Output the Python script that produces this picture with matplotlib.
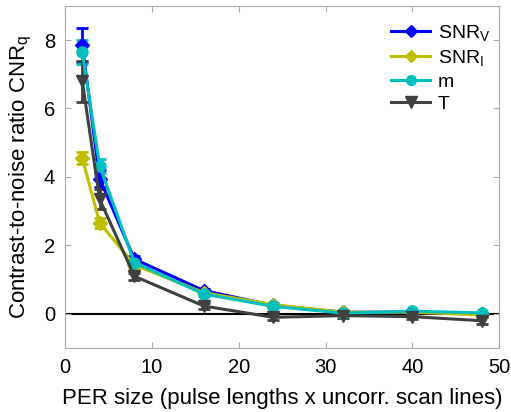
import matplotlib
matplotlib.use("Agg")
import matplotlib.pyplot as plt
from matplotlib.lines import Line2D

x = [2, 4, 8, 16, 24, 32, 40, 48]
snr_v = [7.85, 3.95, 1.6, 0.68, 0.25, 0.05, 0.05, 0.0]
snr_v_err = [0.5, 0.25, 0.08, 0.05, 0.05, 0.03, 0.03, 0.03]
snr_i = [4.55, 2.66, 1.43, 0.62, 0.27, 0.05, 0.05, -0.03]
snr_i_err = [0.18, 0.15, 0.08, 0.05, 0.05, 0.03, 0.03, 0.03]
m = [7.65, 4.32, 1.5, 0.58, 0.22, 0.02, 0.08, 0.03]
m_err = [0.35, 0.2, 0.08, 0.05, 0.05, 0.03, 0.03, 0.03]
t = [6.8, 3.35, 1.1, 0.23, -0.1, -0.05, -0.08, -0.2]
t_err = [0.6, 0.3, 0.1, 0.08, 0.08, 0.06, 0.06, 0.1]
labels = ["SNR$_\\mathregular{V}$", "SNR$_\\mathregular{I}$", "m", "T"]

plt.rcParams['font.family'] = ['Liberation Sans', 'DejaVu Sans']
plt.rcParams['mathtext.fontset'] = 'custom'
plt.rcParams['mathtext.rm'] = 'Liberation Sans'
plt.rcParams['mathtext.it'] = 'Liberation Sans'

fig = plt.figure(figsize=(5.11, 4.12), dpi=100)
ax = fig.add_axes([0.127, 0.155, 0.85, 0.831])

series = [
    (snr_v, snr_v_err, '#0000ff', 'D', 7),
    (snr_i, snr_i_err, '#bfbf00', 'D', 7),
    (m, m_err, '#00bfbf', 'o', 8),
    (t, t_err, '#404040', 'v', 9),
]
handles = []
for (y, e, c, mk, ms), lab in zip(series, labels):
    ax.errorbar(x, y, yerr=e, color=c, marker=mk, markersize=ms, lw=2.2,
                capsize=4, capthick=2, elinewidth=2)
    handles.append(Line2D([], [], color=c, marker=mk, markersize=ms - 1,
                          lw=2.2, label=lab))

ax.axhline(0, color='black', lw=1.5, zorder=0)
ax.set_xlim(0, 50)
ax.set_ylim(-1, 9)
ax.set_xticks([0, 10, 20, 30, 40, 50])
ax.set_yticks([0, 2, 4, 6, 8])
ax.tick_params(direction='in', top=True, right=True, labelsize=14.5, length=4,
               color='#aaaaaa', pad=7)
for s in ax.spines.values():
    s.set_color('#aaaaaa')
ax.set_xlabel('PER size (pulse lengths x uncorr. scan lines)', fontsize=16,
              labelpad=8)
ax.set_ylabel('Contrast-to-noise ratio CNR$_\\mathregular{q}$', fontsize=16,
              labelpad=7)
ax.legend(handles=handles, loc='upper right', frameon=False, fontsize=14,
          handlelength=2.0, handletextpad=0.4, labelspacing=0.25,
          bbox_to_anchor=(1.02, 1.0))
fig.savefig('out.png', dpi=100)
